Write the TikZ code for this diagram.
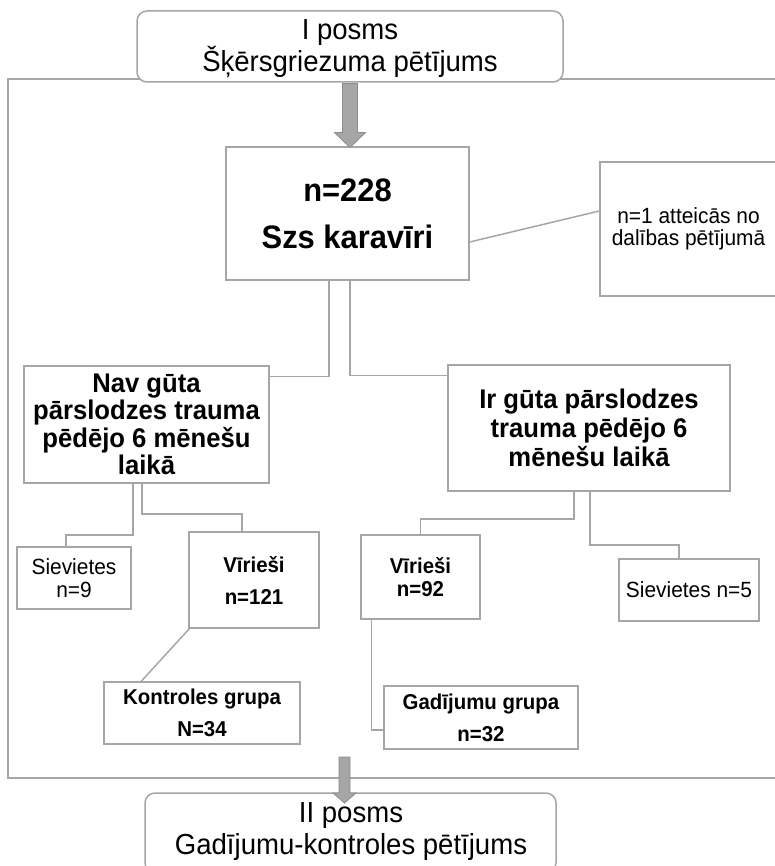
\documentclass[tikz,border=0pt]{standalone}
\usepackage{fontspec}
\setmainfont{Liberation Sans}[FakeStretch=0.95]
\usetikzlibrary{calc}
\definecolor{boxgray}{RGB}{166,166,166}
\definecolor{arrowfill}{RGB}{166,166,166}
\definecolor{arrowline}{RGB}{140,140,140}
\begin{document}
\begin{tikzpicture}[x=1pt,y=-1pt,
  box/.style={draw=boxgray,line width=1.5pt,fill=white,inner sep=0pt,align=center,text=black},
  phase/.style={box,rounded corners=10pt},
  conn/.style={draw=boxgray,line width=1.5pt},
  frame/.style={draw=boxgray,line width=1.5pt},
  phasetext/.style={inner sep=0pt,align=center,font=\fontsize{29}{32}\selectfont},
  bigarrow/.style={fill=arrowfill,draw=arrowline,line width=0.8pt,line join=miter}]
\useasboundingbox (0,0) rectangle (774,866);
% frame
\draw[frame] (790,79) -- (8,79) -- (8,778) -- (790,778);
% boxes
\node[phase,minimum width=426pt,minimum height=71pt] (top) at (350,46.5) {};
\node[phasetext] (toptext) at (350,49) {I posms\\Šķērsgriezuma pētījums};
\node[box,minimum width=243pt,minimum height=133pt,font=\bfseries\fontsize{32.5}{47}\selectfont] (main) at (347.5,213.5) {n=228\\Szs karavīri};
\node[box,minimum width=177pt,minimum height=134pt,font=\fontsize{22}{22.5}\selectfont] (side) at (688.5,229) {n=1 atteicās no\\dalības pētījumā};
\node[box,minimum width=245pt,minimum height=117pt,font=\bfseries\fontsize{27}{27.5}\selectfont] (nav) at (146.5,424.5) {Nav gūta\\pārslodzes trauma\\pēdējo 6 mēnešu\\laikā};
\node[box,minimum width=282pt,minimum height=126pt,font=\bfseries\fontsize{27}{29}\selectfont] (ir) at (589,428) {Ir gūta pārslodzes\\trauma pēdējo 6\\mēnešu laikā};
\node[box,minimum width=114pt,minimum height=62pt,font=\fontsize{22}{22.5}\selectfont] (sievA) at (74,578) {Sievietes\\n=9};
\node[box,minimum width=130pt,minimum height=96pt,font=\bfseries\fontsize{21.5}{32}\selectfont] (virA) at (254,580) {Vīrieši\\n=121};
\node[box,minimum width=196pt,minimum height=62pt,font=\bfseries\fontsize{21.5}{32}\selectfont] (kontr) at (202,713) {Kontroles grupa\\N=34};
\node[box,minimum width=119pt,minimum height=84pt,font=\bfseries\fontsize{21.5}{23}\selectfont] (virB) at (420.5,577) {Vīrieši\\n=92};
\node[box,minimum width=140pt,minimum height=62pt,font=\fontsize{22}{22.5}\selectfont] (sievB) at (689,590) {Sievietes n=5};
\node[box,minimum width=194pt,minimum height=63pt,font=\bfseries\fontsize{21.5}{32}\selectfont] (gad) at (481,717.5) {Gadījumu grupa\\n=32};
\node[phase,minimum width=411pt,minimum height=80pt] (bot) at (350.5,833) {};
\node[phasetext] (bottext) at (351,832) {II posms\\Gadījumu-kontroles pētījums};
% connectors
\draw[conn] ([xshift=-18.5pt]main.south) |- ([yshift=-11pt]nav.north east);
\draw[conn] ([xshift=2.5pt]main.south) |- ([yshift=-11pt]ir.north west);
\draw[conn] ([yshift=-28.5pt]main.east) -- ([yshift=18pt]side.west);
\draw[conn] ([xshift=-13.5pt]nav.south) -- ++(0,51) -| ([xshift=-8pt]sievA.north);
\draw[conn] ([xshift=-4.5pt]nav.south) -- ++(0,30) -| ([xshift=-12pt]virA.north);
\draw[conn] ([xshift=1pt]virA.south west) -- ([xshift=38pt]kontr.north west);
\draw[conn] ([xshift=-15pt]ir.south) -- ++(0,27) -| (virB.north);
\draw[conn] ([xshift=1pt]ir.south) -- ++(0,53) -| ([xshift=-10pt]sievB.north);
\draw[conn] ([xshift=11pt]virB.south west) |- ([yshift=-12.5pt]gad.west);
% big arrows
\filldraw[bigarrow] ([xshift=-7.5pt,yshift=-0.8pt]top.south) -- ++(0,49) -- ++(-8,0) -- ++(15.5,15) -- ++(15.5,-15) -- ++(-8,0) -- ++(0,-49) -- cycle;
\coordinate (barrow) at (344.5,757);
\filldraw[bigarrow] ([xshift=-5.5pt]barrow) -- ++(0,36) -- ++(-6,0) -- ++(11.5,10) -- ++(11.5,-10) -- ++(-6,0) -- ++(0,-36) -- cycle;
\end{tikzpicture}
\end{document}
